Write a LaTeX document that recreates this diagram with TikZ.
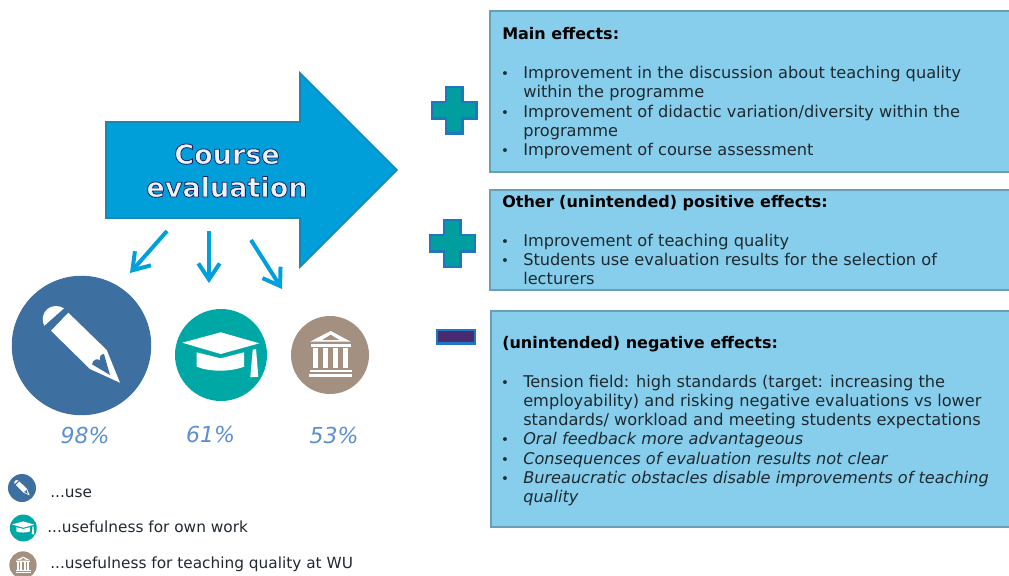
\documentclass[tikz,border=0pt]{standalone}
\usepackage{fontspec}
\setmainfont{DejaVu Sans}
\newfontfamily\coursefont[FakeBold=3]{DejaVu Sans Bold}
\usetikzlibrary{arrows.meta,fit}
\definecolor{boxfill}{HTML}{87CEEC}
\definecolor{boxline}{HTML}{6A9DB8}
\definecolor{arrowfill}{HTML}{009FD9}
\definecolor{arrowline}{HTML}{1A86B4}
\definecolor{thin}{HTML}{00A0DC}
\definecolor{penblue}{HTML}{3D6FA1}
\definecolor{capteal}{HTML}{00A8A5}
\definecolor{bankbrown}{HTML}{A39080}
\definecolor{signline}{HTML}{1F77BE}
\definecolor{signteal}{HTML}{009E9E}
\definecolor{signpurple}{HTML}{4A2A70}
\definecolor{pct}{HTML}{5B8FD0}
\definecolor{bodytext}{HTML}{1E2A30}
\definecolor{courselight}{HTML}{EAF2FA}
\tikzset{
  x=0.75pt,y=-0.75pt,
  infobox/.style={draw=boxline,fill=boxfill,line width=2.2pt,inner sep=0pt,outer sep=0pt},
  head/.style={anchor=base west,inner sep=0pt,font=\fontsize{12pt}{14pt}\selectfont\bfseries,text=black},
  body/.style={anchor=base west,inner sep=0pt,font=\fontsize{12.15pt}{14pt}\selectfont,text=bodytext},
  bodyit/.style={body,font=\fontsize{12.1pt}{14pt}\selectfont\itshape},
  bul/.style={anchor=base,inner sep=0pt,font=\fontsize{10pt}{12pt}\selectfont,text=bodytext},
  percent/.style={anchor=base,inner sep=0pt,font=\fontsize{16.5pt}{18pt}\selectfont\itshape,text=pct},
  legend/.style={anchor=base west,inner sep=0pt,font=\fontsize{11.5pt}{13pt}\selectfont,text=bodytext},
  disc/.style={circle,inner sep=0pt,outer sep=0pt},
  pointer/.style={draw=thin,line width=3pt,-{Straight Barb[length=12pt,width=16pt,line width=3pt]}},
  sign/.style={draw=signline,line width=2pt,miter limit=10},
  coursetext/.style={anchor=base,inner sep=0pt,font=\coursefont\fontsize{20.3pt}{24pt}\selectfont},
  pencilicon/.pic={
    \begin{scope}[shift={(-81.5,-345.5)}]
      \fill[white] (44.3,325.7) .. controls (38,312) and (52,301) .. (64,308.3) -- cycle;
      \fill[white] (51,330.7) -- (68.3,312.7) -- (106.7,350) -- (120,382.7) -- (90,369) -- cycle;
      \fill[penblue] (92,364.3) .. controls (93,359) and (98,358) .. (100,360.7) .. controls (99,357) and (101,354) .. (104,354) -- (110,375) -- cycle;
    \end{scope}
  },
  capicon/.pic={
    \begin{scope}[shift={(-221,-355)}]
      \fill[white] (182.3,342.7) -- (220.7,332.3) -- (259.3,343.3) -- (220.7,354) -- cycle;
      \fill[white] (196.7,352.3) -- (220.7,358.3) -- (244,352.3) -- (244,366.7) .. controls (230,372) and (210,372) .. (196.7,366.7) -- cycle;
      \fill[white] (252.7,350) -- (256,348.7) -- (258.3,376.7) -- (250.3,377.3) -- cycle;
    \end{scope}
  },
  bankicon/.pic={
    \begin{scope}[shift={(-330,-355)}]
      \fill[white,even odd rule] (330.7,331) -- (310,341.7) -- (350.7,341.7) -- cycle (330.7,334.5) -- (322,340) -- (339.5,340) -- cycle;
      \fill[white] (311,343.5) rectangle (351,346.5);
      \fill[white] (313.3,347.7) rectangle (318.3,368.3);
      \fill[white] (322.7,347.7) rectangle (328.3,368.3);
      \fill[white] (333.3,347.7) rectangle (338.3,368.3);
      \fill[white] (342.7,347.7) rectangle (348.3,368.3);
      \fill[white] (310,370) rectangle (351.7,372.3);
      \fill[white] (309,374) rectangle (351.7,376.7);
    \end{scope}
  },
}
\begin{document}
\begin{tikzpicture}
\useasboundingbox (0,0) rectangle (1009,575);
% info boxes
\node[infobox,fit={(490,11)(1014,172)}] (box1) {};
\node[infobox,fit={(490,190)(1014,290)}] (box2) {};
\node[infobox,fit={(491,311)(1014,527)}] (box3) {};
% big arrow
\coordinate (a1) at (106,122);
\coordinate (a2) at (300,122);
\coordinate (a3) at (300,73);
\coordinate (a4) at (397,170);
\coordinate (a5) at (300,267);
\coordinate (a6) at (300,218);
\coordinate (a7) at (106,218);
\draw[fill=arrowfill,draw=arrowline,line width=1.2pt,miter limit=10] (a1) -- (a2) -- (a3) -- (a4) -- (a5) -- (a6) -- (a7) -- cycle;
\node[coursetext] (course) at (227,164) {\color{courselight}\special{pdf:code 0.08 0.13 0.42 RG}Course};
\node[coursetext] (evaluation) at (227,197) {\color{courselight}\special{pdf:code 0.08 0.13 0.42 RG}evaluation};
% discs
\node[disc,fill=penblue,minimum size=104.6pt] (use) at (81.5,345.5) {};
\node[disc,fill=capteal,minimum size=69pt] (own) at (221,355) {};
\node[disc,fill=bankbrown,minimum size=58.5pt] (wu) at (330,355) {};
\pic at (use.center) {pencilicon};
\pic at (own.center) {capicon};
\pic at (wu.center) {bankicon};
% pointers
\coordinate (p1s) at (167,231); \coordinate (p1e) at (130,273);
\coordinate (p2s) at (209,231); \coordinate (p2e) at (209,283);
\coordinate (p3s) at (251,240); \coordinate (p3e) at (282,289);
\draw[pointer] (p1s) -- (p1e);
\draw[pointer] (p2s) -- (p2e);
\draw[pointer] (p3s) -- (p3e);
% percentages
\node[percent] (pa) at (85,443) {98\%};
\node[percent] (pb) at (210.5,442) {61\%};
\node[percent] (pc) at (334,443) {53\%};
% legend
\node[disc,fill=penblue,minimum size=21pt] (lg1) at (22,488) {};
\node[disc,fill=capteal,minimum size=20.2pt] (lg2) at (23.3,528) {};
\node[disc,fill=bankbrown,minimum size=20.5pt] (lg3) at (23,565) {};
\pic[scale=0.2] at (lg1.center) {pencilicon};
\pic[scale=0.29] at (lg2.center) {capicon};
\pic[scale=0.35] at (lg3.center) {bankicon};
\node[legend] (lt1) at (50,497) {...use};
\node[legend] (lt2) at (47,532) {...usefulness for own work};
\node[legend] (lt3) at (50,568) {...usefulness for teaching quality at WU};
% signs
\draw[sign,fill=signteal] (446,87) -- (462.7,87) -- (462.7,102) -- (476.5,102) -- (476.5,118.3) -- (462.7,118.3) -- (462.7,133.5) -- (446,133.5) -- (446,118.3) -- (432,118.3) -- (432,102) -- (446,102) -- cycle;
\draw[sign,fill=signteal] (444,220) -- (460.7,220) -- (460.7,235) -- (475,235) -- (475,251.7) -- (460.7,251.7) -- (460.7,267) -- (444,267) -- (444,251.7) -- (430,251.7) -- (430,235) -- (444,235) -- cycle;
\draw[sign,fill=signpurple] (437,330) rectangle (475,343.5);
% box 1 text
\node[head] (h1) at (502,39) {Main effects:};
\node[bul] (b11) at (505,78) {•};
\node[body] (t11) at (523,78) {Improvement in the discussion about teaching quality};
\node[body] (t12) at (523,97) {within the programme};
\node[bul] (b12) at (505,117) {•};
\node[body] (t13) at (523,117) {Improvement of didactic variation/diversity within the};
\node[body] (t14) at (523,136) {programme};
\node[bul] (b13) at (505,155) {•};
\node[body] (t15) at (523,155) {Improvement of course assessment};
% box 2 text
\node[head] (h2) at (502,207) {Other (unintended) positive effects:};
\node[bul] (b21) at (505,246) {•};
\node[body] (t21) at (523,246) {Improvement of teaching quality};
\node[bul] (b22) at (505,265) {•};
\node[body] (t22) at (523,265) {Students use evaluation results for the selection of};
\node[body] (t23) at (523,284) {lecturers};
% box 3 text
\node[head] (h3) at (502,348) {(unintended) negative effects:};
\node[bul] (b31) at (505,387) {•};
\node[body] (t31) at (523,387) {Tension field: high standards (target: increasing the};
\node[body] (t32) at (523,406) {employability) and risking negative evaluations vs lower};
\node[body] (t33) at (523,425) {standards/ workload and meeting students expectations};
\node[bul] (b32) at (505,444) {•};
\node[bodyit] (t34) at (523,444) {Oral feedback more advantageous};
\node[bul] (b33) at (505,464) {•};
\node[bodyit] (t35) at (523,464) {Consequences of evaluation results not clear};
\node[bul] (b34) at (505,483) {•};
\node[bodyit] (t36) at (523,483) {Bureaucratic obstacles disable improvements of teaching};
\node[bodyit] (t37) at (523,502) {quality};
\end{tikzpicture}
\end{document}
